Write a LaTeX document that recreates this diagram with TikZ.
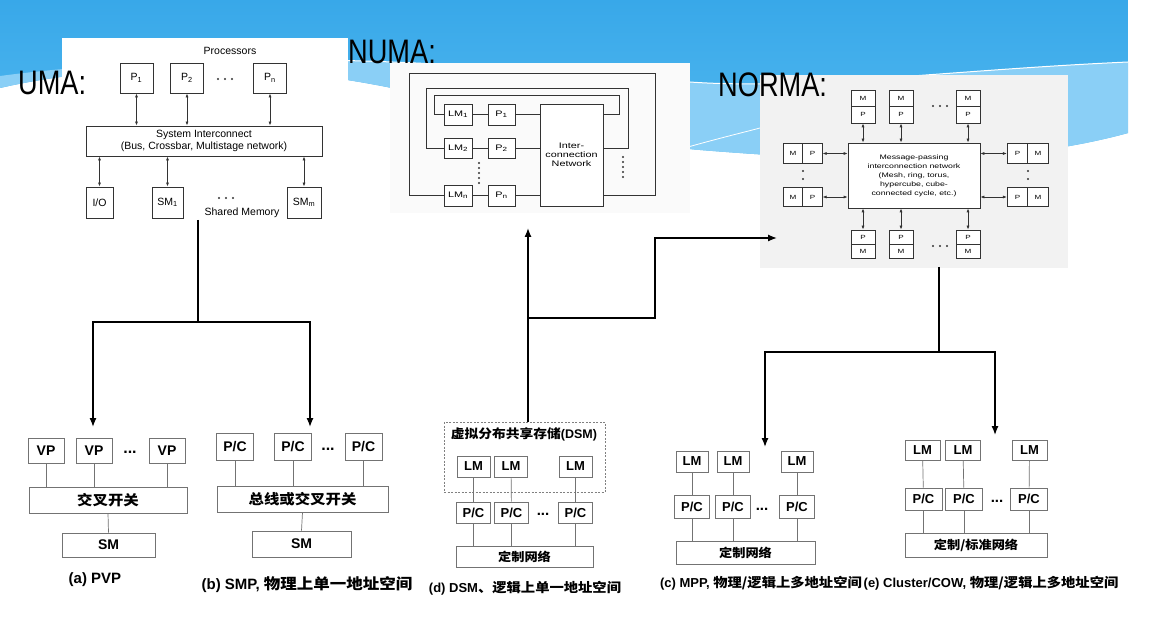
\documentclass[tikz,border=0pt]{standalone}
\usepackage{fontspec}
\setmainfont{Liberation Sans}
\newfontfamily\cjk{Noto Sans CJK SC}[FakeStretch=1.1]
\newfontfamily\titlefont{Liberation Sans}[FakeStretch=0.8]
\newfontfamily\scanwide{Liberation Sans}[FakeStretch=1.35]
\usetikzlibrary{arrows.meta,positioning}

\definecolor{skytop}{RGB}{56,168,233}
\definecolor{skylow}{RGB}{84,186,240}
\definecolor{skylight}{RGB}{138,207,246}

\tikzset{
    panel/.style={anchor=north west, inner sep=0pt, draw=none},
    slidetitle/.style={anchor=base west, inner sep=0pt, font=\titlefont\fontsize{34}{36}\selectfont},
    scantext/.style={inner sep=0pt, font=\fontsize{10.5}{11.5}\selectfont},
    scanbox/.style={draw=black!80, line width=0.8pt, fill=white, inner sep=0pt, font=\fontsize{10.5}{11.5}\selectfont},
    numabox/.style={scanbox, font=\scanwide\fontsize{8}{9}\selectfont},
    normabox/.style={scanbox, line width=0.7pt, font=\scanwide\fontsize{6}{7}\selectfont},
    scanline/.style={draw=black!80, line width=0.8pt},
    dblarrow/.style={draw=black!80, line width=0.7pt, {Latex[length=4pt,width=3pt]}-{Latex[length=4pt,width=3pt]}},
    dotline/.style={draw=black!80, line width=2.4pt, line cap=round, dash pattern=on 0pt off #1},
    cellbox/.style={draw=black!55, line width=0.7pt, fill=white, inner sep=0pt, font=\bfseries\fontsize{14}{15}\selectfont},
    smallcell/.style={cellbox, font=\bfseries\fontsize{13}{14}\selectfont},
    celldots/.style={inner sep=0pt, font=\bfseries\fontsize{16}{17}\selectfont},
    tie/.style={draw=black!55, line width=0.7pt},
    flow/.style={line width=1.3pt, -{Latex[length=9pt,width=7pt]}},
    caption/.style={inner sep=0pt, font=\bfseries\fontsize{13}{14}\selectfont},
}

\begin{document}
\begin{tikzpicture}[x=1pt,y=-1pt]
\useasboundingbox (0,0) rectangle (1153,636);
\fill[white] (0,0) rectangle (1153,636);

% sky band of the slide
\shade[top color=skytop, bottom color=skylow] (0,0) -- (1128,0) -- (1128,133)
    .. controls (1000,168) and (850,162) .. (700,150)
    .. controls (560,138) and (420,80) .. (260,70)
    .. controls (150,64) and (60,74) .. (0,88) -- cycle;
\fill[skylight] (1128,62) .. controls (950,70) and (800,90) .. (690,82)
    .. controls (560,72) and (420,60) .. (300,60)
    .. controls (150,60) and (60,68) .. (0,76) -- (0,88)
    .. controls (60,74) and (150,64) .. (260,70)
    .. controls (420,80) and (560,138) .. (700,150)
    .. controls (850,162) and (1000,168) .. (1128,133) -- cycle;
\draw[white, line width=1pt] (1128,62) .. controls (950,70) and (800,90) .. (690,82)
    .. controls (560,72) and (420,60) .. (300,60);
\draw[white, line width=0.8pt] (688,147) .. controls (720,138) and (745,132) .. (760,128);

% pictures
\node[panel, fill=white, minimum width=286, minimum height=190] (umapic) at (62,38) {};
\node[panel, fill=black!2, minimum width=300, minimum height=150] (numapic) at (390,63) {};
\node[panel, fill=black!5, minimum width=308, minimum height=193] (normapic) at (760,75) {};

\node[slidetitle] (umatitle) at (18,95) {UMA:};
\node[slidetitle] (numatitle) at (348,64) {NUMA:};
\node[slidetitle] (normatitle) at (718,97) {NORMA:};

% UMA
\node[scantext] (proc) at (230,51) {Processors};
\node[scanbox, minimum width=33, minimum height=30] (p1) at (136.5,78) {P\textsubscript{1}};
\node[scanbox, minimum width=33, minimum height=30] (p2) at (187,78) {P\textsubscript{2}};
\node[scanbox, minimum width=33, minimum height=30] (pn) at (270,78) {P\textsubscript{n}};
\draw[dotline=7pt] (218,79) -- (239,79);
\node[scanbox, minimum width=236, minimum height=30, align=center] (sysbus) at (204,141)
    {System Interconnect\\(Bus, Crossbar, Multistage network)};
\draw[dblarrow] (p1.south) -- (p1.south |- sysbus.north);
\draw[dblarrow] (p2.south) -- (p2.south |- sysbus.north);
\draw[dblarrow] (pn.south) -- (pn.south |- sysbus.north);
\node[scanbox, minimum width=27, minimum height=31] (io) at (99.5,202.5) {I/O};
\node[scanbox, minimum width=31, minimum height=31] (sm1) at (167.5,202.5) {SM\textsubscript{1}};
\node[scanbox, minimum width=34, minimum height=31] (smm) at (304,202.5) {SM\textsubscript{m}};
\draw[dotline=7pt] (219,198) -- (240,198);
\node[scantext] (shmem) at (242,213) {Shared Memory};
\draw[dblarrow] (io.north) -- (io.north |- sysbus.south);
\draw[dblarrow] (sm1.north) -- (sm1.north |- sysbus.south);
\draw[dblarrow] (smm.north) -- (smm.north |- sysbus.south);

% NUMA
\node[numabox, minimum width=28, minimum height=21] (lm1) at (458,114.5) {LM\textsubscript{1}};
\node[numabox, minimum width=27, minimum height=21] (pa1) at (501.5,114.5) {P\textsubscript{1}};
\node[numabox, minimum width=28, minimum height=20] (lm2) at (458,148) {LM\textsubscript{2}};
\node[numabox, minimum width=27, minimum height=20] (pa2) at (501.5,148) {P\textsubscript{2}};
\node[numabox, minimum width=28, minimum height=21] (lmn) at (458,195.5) {LM\textsubscript{n}};
\node[numabox, minimum width=27, minimum height=21] (pan) at (501.5,195.5) {P\textsubscript{n}};
\node[numabox, minimum width=63, minimum height=102, align=center,
      font=\scanwide\fontsize{8}{9}\selectfont] (icn) at (571.5,155) {Inter-\\connection\\Network};
\draw[scanline] (lm1) -- (pa1);
\draw[scanline] (lm2) -- (pa2);
\draw[scanline] (lmn) -- (pan);
\draw[scanline] (pa1) -- (pa1 -| icn.west);
\draw[scanline] (pa2) -- (pa2 -| icn.west);
\draw[scanline] (pan) -- (pan -| icn.west);
\draw[scanline] (lm1.west) -- ++(-9,0) |- (619,95) |- (icn.east |- lm1.west);
\draw[scanline] (lm2.west) -- ++(-17,0) |- (628,88) |- (icn.east |- lm2.west);
\draw[scanline] (lmn.west) -- ++(-34,0) |- (655,73) |- (icn.east |- lmn.west);
\draw[dotline=5pt] (479,163) -- (479,183);
\draw[dotline=5pt] (623,157) -- (623,177);

% NORMA
\node[normabox, minimum width=132, minimum height=65, align=center,
      font=\scanwide\fontsize{6.5}{9}\selectfont] (mpn) at (914,175.5)
    {Message-passing\\interconnection network\\(Mesh, ring, torus,\\hypercube, cube-\\connected cycle, etc.)};
\node[normabox, minimum width=24, minimum height=16.5] (tm1) at (863,98.25) {M};
\node[normabox, minimum width=24, minimum height=16.5] (tp1) at (863,114.75) {P};
\node[normabox, minimum width=24, minimum height=16.5] (tm2) at (901,98.25) {M};
\node[normabox, minimum width=24, minimum height=16.5] (tp2) at (901,114.75) {P};
\node[normabox, minimum width=24, minimum height=16.5] (tm3) at (968,98.25) {M};
\node[normabox, minimum width=24, minimum height=16.5] (tp3) at (968,114.75) {P};
\node[normabox, minimum width=24, minimum height=14] (bp1) at (863,237) {P};
\node[normabox, minimum width=24, minimum height=14] (bm1) at (863,251) {M};
\node[normabox, minimum width=24, minimum height=14] (bp2) at (901,237) {P};
\node[normabox, minimum width=24, minimum height=14] (bm2) at (901,251) {M};
\node[normabox, minimum width=24, minimum height=14] (bp3) at (968,237) {P};
\node[normabox, minimum width=24, minimum height=14] (bm3) at (968,251) {M};
\node[normabox, minimum width=19.5, minimum height=19.5] (lm1n) at (793,153.5) {M};
\node[normabox, minimum width=19.5, minimum height=19.5] (lp1n) at (812.5,153.5) {P};
\node[normabox, minimum width=19.5, minimum height=19.5] (lm2n) at (793,197) {M};
\node[normabox, minimum width=19.5, minimum height=19.5] (lp2n) at (812.5,197) {P};
\node[normabox, minimum width=20.5, minimum height=19.5] (rp1n) at (1017.5,153.5) {P};
\node[normabox, minimum width=20.5, minimum height=19.5] (rm1n) at (1038,153.5) {M};
\node[normabox, minimum width=20.5, minimum height=19.5] (rp2n) at (1017.5,197) {P};
\node[normabox, minimum width=20.5, minimum height=19.5] (rm2n) at (1038,197) {M};
\draw[dblarrow] (tp1.south) -- (tp1.south |- mpn.north);
\draw[dblarrow] (tp2.south) -- (tp2.south |- mpn.north);
\draw[dblarrow] (tp3.south) -- (tp3.south |- mpn.north);
\draw[dblarrow] (bp1.north) -- (bp1.north |- mpn.south);
\draw[dblarrow] (bp2.north) -- (bp2.north |- mpn.south);
\draw[dblarrow] (bp3.north) -- (bp3.north |- mpn.south);
\draw[dblarrow] (lp1n.east) -- (lp1n.east -| mpn.west);
\draw[dblarrow] (lp2n.east) -- (lp2n.east -| mpn.west);
\draw[dblarrow] (rp1n.west) -- (rp1n.west -| mpn.east);
\draw[dblarrow] (rp2n.west) -- (rp2n.west -| mpn.east);
\draw[dotline=7pt] (933,106) -- (947,106);
\draw[dotline=7pt] (933,246) -- (947,246);
\draw[dotline=8pt] (803,171) -- (803,179);
\draw[dotline=8pt] (1028,171) -- (1028,179);

% (a) PVP
\node[cellbox, minimum width=36, minimum height=25] (vp1) at (46,450.5) {VP};
\node[cellbox, minimum width=36, minimum height=25] (vp2) at (94,450.5) {VP};
\node[cellbox, minimum width=36, minimum height=25] (vp3) at (167,450.5) {VP};
\node[celldots] (vpdots) at (130,452) {...};
\node[cellbox, minimum width=158, minimum height=26, font=\cjk\bfseries\fontsize{14}{15}\selectfont] (xbar) at (108,500) {交叉开关};
\node[cellbox, minimum width=93, minimum height=24] (sma) at (108.5,545) {SM};
\draw[tie] (vp1.south) -- (vp1.south |- xbar.north);
\draw[tie] (vp2.south) -- (vp2.south |- xbar.north);
\draw[tie] (vp3.south) -- (vp3.south |- xbar.north);
\draw[tie] (xbar.south) -- (sma.north);
\node[caption, font=\bfseries\fontsize{15}{16}\selectfont] (capa) at (95,580) {(a) PVP};

% (b) SMP
\node[cellbox, minimum width=37, minimum height=27] (pcb1) at (235,446.5) {P/C};
\node[cellbox, minimum width=37, minimum height=27] (pcb2) at (293,446.5) {P/C};
\node[cellbox, minimum width=37, minimum height=27] (pcb3) at (363.5,446.5) {P/C};
\node[celldots] (pcbdots) at (328,449) {...};
\node[cellbox, minimum width=171, minimum height=26, font=\cjk\bfseries\fontsize{14}{15}\selectfont] (busb) at (302.5,499) {总线或交叉开关};
\node[cellbox, minimum width=99, minimum height=26] (smb) at (301.5,544) {SM};
\draw[tie] (pcb1.south) -- (pcb1.south |- busb.north);
\draw[tie] (pcb2.south) -- (pcb2.south |- busb.north);
\draw[tie] (pcb3.south) -- (pcb3.south |- busb.north);
\draw[tie] (busb.south) -- (smb.north);
\node[caption, font=\bfseries\fontsize{15}{16}\selectfont] (capb) at (307,585) {(b) SMP, {\cjk 物理上单一地址空间}};

% (d) DSM
\node[draw=black!50, line width=0.7pt, dash pattern=on 2pt off 1.5pt, minimum width=161, minimum height=70, inner sep=0pt] (dsm) at (524.5,457) {};
\node[inner sep=0pt, font=\bfseries\fontsize{12.5}{13}\selectfont] (dsmtitle) at (524,434) {{\cjk 虚拟分布共享存储}(DSM)};
\node[smallcell, minimum width=33, minimum height=21] (lmd1) at (473.5,466.5) {LM};
\node[smallcell, minimum width=33, minimum height=21] (lmd2) at (511,466.5) {LM};
\node[smallcell, minimum width=33, minimum height=21] (lmd3) at (575.5,466.5) {LM};
\node[smallcell, minimum width=34, minimum height=21] (pcd1) at (473.5,512.5) {P/C};
\node[smallcell, minimum width=34, minimum height=21] (pcd2) at (511.5,512.5) {P/C};
\node[smallcell, minimum width=34, minimum height=21] (pcd3) at (575.5,512.5) {P/C};
\node[celldots, font=\bfseries\fontsize{15}{16}\selectfont] (pcddots) at (543,514) {...};
\node[smallcell, minimum width=137, minimum height=21, font=\cjk\bfseries\fontsize{12}{13}\selectfont] (netd) at (524.5,556.5) {定制网络};
\draw[tie] (lmd1) -- (pcd1);
\draw[tie] (lmd2) -- (pcd2);
\draw[tie] (lmd3) -- (pcd3);
\draw[tie] (pcd1.south) -- (pcd1.south |- netd.north);
\draw[tie] (pcd2.south) -- (pcd2.south |- netd.north);
\draw[tie] (pcd3.south) -- (pcd3.south |- netd.north);
\node[caption] (capd) at (525,588) {(d) DSM{\cjk 、逻辑上单一地址空间}};

% (c) MPP
\node[smallcell, minimum width=32, minimum height=21] (lmc1) at (692,461.5) {LM};
\node[smallcell, minimum width=32, minimum height=21] (lmc2) at (733,461.5) {LM};
\node[smallcell, minimum width=32, minimum height=21] (lmc3) at (797,461.5) {LM};
\node[smallcell, minimum width=35, minimum height=23] (pcc1) at (692,506.5) {P/C};
\node[smallcell, minimum width=35, minimum height=23] (pcc2) at (733,506.5) {P/C};
\node[smallcell, minimum width=35, minimum height=23] (pcc3) at (797,506.5) {P/C};
\node[celldots, font=\bfseries\fontsize{15}{16}\selectfont] (pccdots) at (762,509) {...};
\node[smallcell, minimum width=139, minimum height=23, font=\cjk\bfseries\fontsize{12}{13}\selectfont] (netc) at (745.5,552.5) {定制网络};
\draw[tie] (lmc1) -- (pcc1);
\draw[tie] (lmc2) -- (pcc2);
\draw[tie] (lmc3) -- (pcc3);
\draw[tie] (pcc1.south) -- (pcc1.south |- netc.north);
\draw[tie] (pcc2.south) -- (pcc2.south |- netc.north);
\draw[tie] (pcc3.south) -- (pcc3.south |- netc.north);
\node[caption] (capc) at (761,583) {(c) MPP, {\cjk 物理/逻辑上多地址空间}};

% (e) Cluster/COW
\node[smallcell, minimum width=35, minimum height=20] (lme1) at (922.5,450) {LM};
\node[smallcell, minimum width=35, minimum height=20] (lme2) at (963,450) {LM};
\node[smallcell, minimum width=35, minimum height=20] (lme3) at (1029.5,450) {LM};
\node[smallcell, minimum width=37, minimum height=22] (pce1) at (923.5,499) {P/C};
\node[smallcell, minimum width=37, minimum height=22] (pce2) at (964,499) {P/C};
\node[smallcell, minimum width=37, minimum height=22] (pce3) at (1029,499) {P/C};
\node[celldots, font=\bfseries\fontsize{15}{16}\selectfont] (pcedots) at (997,501) {...};
\node[smallcell, minimum width=142, minimum height=24, font=\cjk\bfseries\fontsize{12}{13}\selectfont] (nete) at (976,545) {定制/标准网络};
\draw[tie] (lme1) -- (pce1);
\draw[tie] (lme2) -- (pce2);
\draw[tie] (lme3) -- (pce3);
\draw[tie] (pce1.south) -- (pce1.south |- nete.north);
\draw[tie] (pce2.south) -- (pce2.south |- nete.north);
\draw[tie] (pce3.south) -- (pce3.south |- nete.north);
\node[caption] (cape) at (991,583) {(e) Cluster/COW, {\cjk 物理/逻辑上多地址空间}};

% connectors
\coordinate (umaout) at (198,220);
\coordinate (umasplit) at (198,322);
\coordinate (pvpin) at (93,427);
\coordinate (smpin) at (310,427);
\draw[flow] (umaout) -- (umasplit) -| (pvpin);
\draw[flow] (umasplit) -| (smpin);

\coordinate (numain) at (528,228);
\coordinate (dsmsplit) at (528,318);
\coordinate (normain) at (777,238);
\draw[flow] (numain |- dsm.north) -- (numain);
\draw[flow] (dsmsplit) -- (655,318) |- (normain);

\coordinate (normaout) at (939,267);
\coordinate (normasplit) at (939,352);
\coordinate (mppin) at (765,447);
\coordinate (cowin) at (995,435);
\draw[flow] (normaout) -- (normasplit) -| (mppin);
\draw[flow] (normasplit) -| (cowin);
\end{tikzpicture}
\end{document}
